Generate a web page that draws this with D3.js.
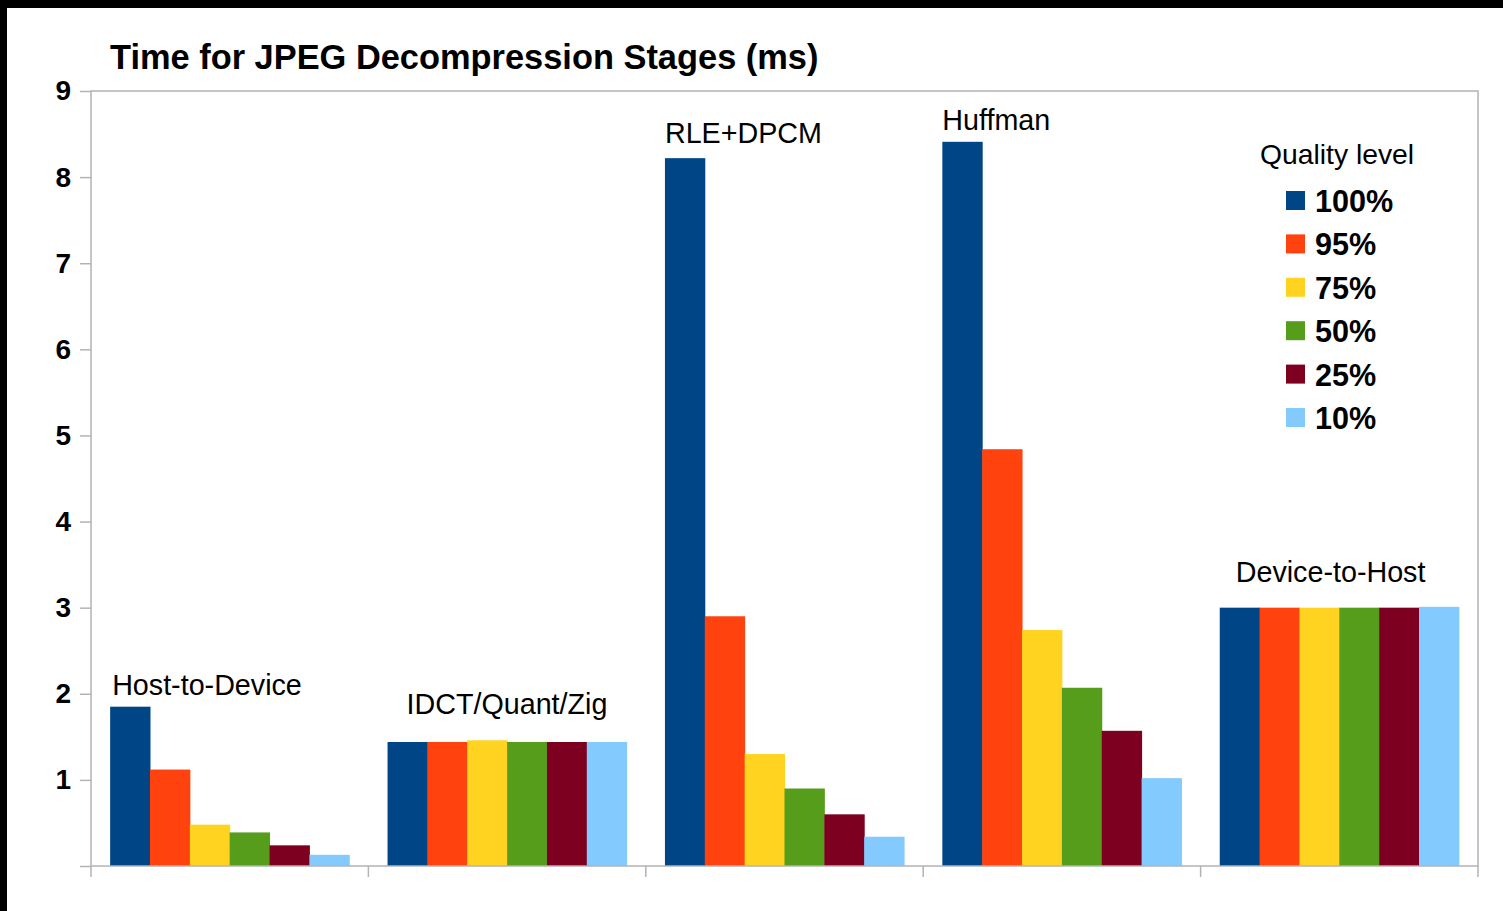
<!DOCTYPE html>
<html lang="en">
<head>
    <meta charset="utf-8">
    <title>Time for JPEG Decompression Stages</title>
    <script src="https://d3js.org/d3.v7.min.js"></script>
    <style>
        body { margin: 0; background: #000; }
        svg { display: block; font-family: "Liberation Sans", Arial, sans-serif; }
    </style>
</head>
<body>
<svg width="1503" height="911"></svg>
<script>
    // data
    var stages = ["Host-to-Device", "IDCT/Quant/Zig", "RLE+DPCM", "Huffman", "Device-to-Host"];
    var qualities = ["100%", "95%", "75%", "50%", "25%", "10%"];
    var q100 = [1.85, 1.44, 8.22, 8.41, 3.00];
    var q95  = [1.12, 1.44, 2.90, 4.84, 3.00];
    var q75  = [0.48, 1.46, 1.30, 2.74, 3.00];
    var q50  = [0.39, 1.44, 0.90, 2.07, 3.00];
    var q25  = [0.24, 1.44, 0.60, 1.57, 3.00];
    var q10  = [0.13, 1.44, 0.34, 1.02, 3.01];
    var yTicks = [1, 2, 3, 4, 5, 6, 7, 8, 9];

    var series = [q100, q95, q75, q50, q25, q10];
    var colors = ["#004586", "#ff420e", "#ffd320", "#579d1c", "#7e0021", "#83caff"];

    // where the stage names sit relative to their group (px)
    var labelDx = [2, 19, 0, 0, 16];
    var labelDy = [12, 26, 15, 12, 25];

    var svg = d3.select("svg");
    // white page inside black frame
    svg.append("rect").attr("x", 7).attr("y", 8).attr("width", 1496).attr("height", 903).attr("fill", "#fff");

    var plot = {left: 91, top: 91, right: 1478, bottom: 866};

    var x0 = d3.scaleBand()
        .domain(stages)
        .range([plot.left, plot.right])
        .padding(0);
    var pad = x0.bandwidth() * 0.069;
    var x1 = d3.scaleBand()
        .domain(d3.range(qualities.length))
        .range([pad, x0.bandwidth() - pad])
        .padding(0);
    var y = d3.scaleLinear()
        .domain([0, 9])
        .range([plot.bottom, plot.top]);

    // bars
    var groups = svg.append("g").selectAll("g")
        .data(stages)
        .enter()
        .append("g")
        .attr("transform", function(d){ return "translate(" + x0(d) + ",0)"; });

    groups.selectAll("rect")
        .data(function(d, i){
            return series.map(function(s, k){ return {k: k, v: s[i]}; });
        })
        .enter()
        .append("rect")
        .attr("x", function(d){ return x1(d.k); })
        .attr("width", x1.bandwidth() + 0.5)
        .attr("y", function(d){ return y(d.v); })
        .attr("height", function(d){ return y(0) - y(d.v); })
        .attr("fill", function(d){ return colors[d.k]; });

    // stage labels
    svg.append("g").selectAll("text")
        .data(stages)
        .enter()
        .append("text")
        .attr("x", function(d, i){ return x0(d) + pad + labelDx[i]; })
        .attr("y", function(d, i){
            return y(d3.max(series, function(s){ return s[i]; })) - labelDy[i];
        })
        .attr("font-size", 28.7)
        .attr("fill", "#000")
        .text(function(d){ return d; });

    // plot frame
    svg.append("rect")
        .attr("x", plot.left).attr("y", plot.top)
        .attr("width", plot.right - plot.left)
        .attr("height", plot.bottom - plot.top)
        .attr("fill", "none")
        .attr("stroke", "#b3b3b3")
        .attr("stroke-width", 1.5);

    // y axis
    var yAxis = d3.axisLeft(y)
        .tickValues([0].concat(yTicks))
        .tickSize(11)
        .tickPadding(9)
        .tickFormat(function(d){ return d === 0 ? "" : d; });
    var gy = svg.append("g")
        .attr("transform", "translate(" + plot.left + ",0)")
        .call(yAxis);
    gy.select(".domain").remove();
    gy.selectAll("line").attr("stroke", "#b3b3b3").attr("stroke-width", 1.5);
    gy.selectAll("text")
        .attr("font-size", 28)
        .attr("font-weight", "bold")
        .attr("font-family", "Liberation Sans, Arial, sans-serif")
        .attr("fill", "#000");

    // x axis ticks at group boundaries
    var bounds = stages.map(function(d){ return x0(d); }).concat([plot.right]);
    svg.append("g").selectAll("line")
        .data(bounds)
        .enter()
        .append("line")
        .attr("x1", function(d){ return d; })
        .attr("x2", function(d){ return d; })
        .attr("y1", plot.bottom)
        .attr("y2", plot.bottom + 11)
        .attr("stroke", "#b3b3b3")
        .attr("stroke-width", 1.5);

    // title
    svg.append("text")
        .attr("x", 110)
        .attr("y", 69)
        .attr("font-size", 34.4)
        .attr("font-weight", "bold")
        .text("Time for JPEG Decompression Stages (ms)");

    // legend
    var legend = svg.append("g").attr("transform", "translate(1260,0)");
    legend.append("text")
        .attr("x", 0)
        .attr("y", 164)
        .attr("font-size", 28.3)
        .text("Quality level");
    var items = legend.selectAll(".item")
        .data(qualities)
        .enter()
        .append("g")
        .attr("class", "item")
        .attr("transform", function(d, i){ return "translate(0," + (191 + i * 43.4) + ")"; });
    items.append("rect")
        .attr("x", 26)
        .attr("y", 0)
        .attr("width", 19)
        .attr("height", 19)
        .attr("fill", function(d, i){ return colors[i]; });
    items.append("text")
        .attr("x", 55)
        .attr("y", 21)
        .attr("font-size", 30.6)
        .attr("font-weight", "bold")
        .text(function(d){ return d; });
</script>
</body>
</html>
